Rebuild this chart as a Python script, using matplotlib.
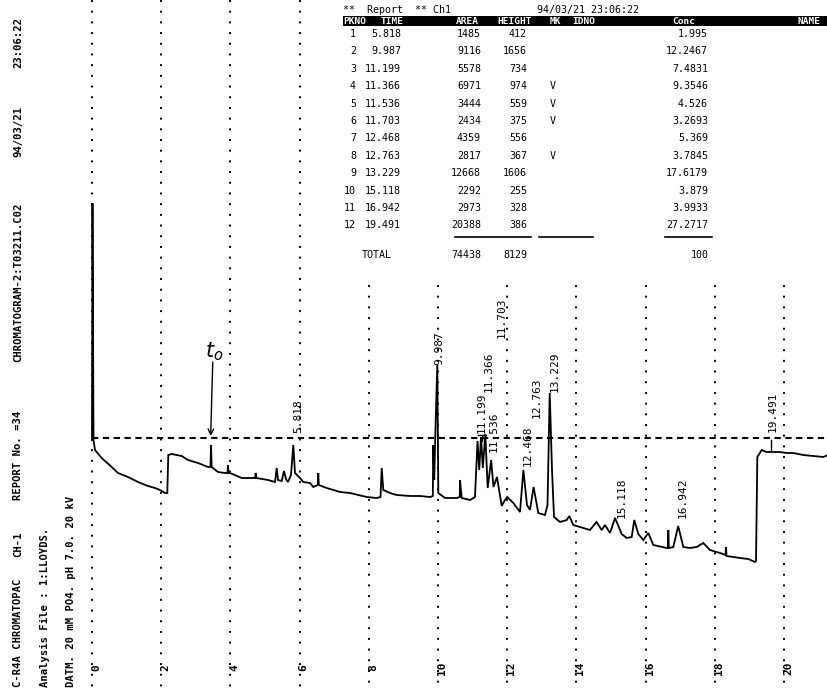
import matplotlib
matplotlib.use("Agg")
import matplotlib.pyplot as plt

# ---------------- data ----------------
# detector trace: retention time (min) and signal (arbitrary units, dashed line = 0)
trace_t = [0.000, 0.014, 0.043, 0.087, 0.280, 0.569, 0.751, 1.040, 1.329, 1.618, 1.821, 1.965,
           2.110, 2.176, 2.205, 2.303, 2.592, 2.775, 3.064, 3.353, 3.425, 3.439, 3.459, 3.642,
           3.844, 3.916, 3.931, 3.945, 3.988, 4.327, 4.711, 4.731, 4.749, 5.087, 5.289, 5.338,
           5.376, 5.483, 5.549, 5.607, 5.665, 5.751, 5.818, 5.867, 6.012, 6.107, 6.301, 6.396,
           6.526, 6.540, 6.555, 6.783, 7.168, 7.457, 7.939, 8.228, 8.338, 8.373, 8.419, 8.613,
           8.806, 9.191, 9.480, 9.769, 9.850, 9.864, 9.890, 9.934, 9.980, 10.009, 10.202, 10.540,
           10.630, 10.636, 10.685, 10.925, 11.069, 11.142, 11.191, 11.243, 11.295, 11.367, 11.436,
           11.535, 11.604, 11.705, 11.841, 11.936, 12.003, 12.176, 12.370, 12.468, 12.572, 12.659,
           12.763, 12.899, 13.092, 13.165, 13.229, 13.295, 13.353, 13.526, 13.720, 13.795, 13.911,
           14.200, 14.393, 14.581, 14.731, 14.827, 14.971, 15.118, 15.309, 15.454, 15.598, 15.673,
           15.789, 15.934, 16.078, 16.223, 16.610, 16.647, 16.656, 16.670, 16.801, 16.942, 17.090,
           17.283, 17.477, 17.668, 17.861, 18.150, 18.309, 18.324, 18.338, 18.728, 18.968, 19.162,
           19.191, 19.229, 19.356, 19.491, 19.595, 19.884, 20.078, 20.269, 20.558, 20.847, 21.136,
           21.272]
trace_s = [-2, 235, -2, -12, -20, -29, -35, -39, -44, -48, -50, -52,
           -55, -55, -17, -16, -18, -22, -25, -29, -29, -7, -29, -34,
           -35, -35, -27, -35, -35, -40, -40, -35, -40, -42, -44, -30,
           -42, -43, -33, -41, -44, -37, -7, -35, -40, -44, -45, -49,
           -47, -35, -47, -50, -54, -55, -59, -60, -59, -30, -52, -55,
           -57, -58, -58, -59, -58, -7, -42, 18, 73, -55, -60, -60,
           -59, -42, -60, -62, -59, -3, -32, 1, -30, 4, -50,
           -22, -49, -39, -68, -62, -59, -65, -74, -32, -67, -72,
           -49, -75, -77, -67, 45, -32, -79, -84, -82, -78, -87,
           -90, -92, -84, -92, -87, -95, -80, -96, -100, -99, -82,
           -96, -102, -95, -107, -110, -110, -92, -110, -109, -88, -109,
           -110, -109, -105, -112, -115, -117, -109, -118, -120, -121, -124,
           -123, -19, -12, -14, -14, -14, -15, -15, -17, -18, -19,
           -17]

# integrated peaks (report table)
pk_no = [1, 2, 3, 4, 5, 6, 7, 8, 9, 10, 11, 12]
pk_time = ["5.818", "9.987", "11.199", "11.366", "11.536", "11.703",
           "12.468", "12.763", "13.229", "15.118", "16.942", "19.491"]
pk_area = [1485, 9116, 5578, 6971, 3444, 2434, 4359, 2817, 12668, 2292, 2973, 20388]
pk_height = [412, 1656, 734, 974, 559, 375, 556, 367, 1606, 255, 328, 386]
pk_mark = ["", "", "", "V", "V", "V", "", "V", "", "", "", ""]
pk_conc = ["1.995", "12.2467", "7.4831", "9.3546", "4.526", "3.2693",
           "5.369", "3.7845", "17.6179", "3.879", "3.9933", "27.2717"]
total_area = "74438"
total_height = "8129"
total_conc = "100"

x_ticks = [0, 2, 4, 6, 8, 10, 12, 14, 16, 18, 20]
tick_labels = ["0", "2", "4", "6", "8", "10", "12", "14", "16", "18", "20"]

header_cols = ["PKNO", "TIME", "AREA", "HEIGHT", "MK", "IDNO", "Conc", "NAME"]

# ---------------- layout ----------------
W, H = 828, 689
PX0, PXMIN = 92.0, 34.6      # pixel of t=0, pixels per minute
Y0 = 438.0                   # pixel row of the dashed reference line
MONO = "DejaVu Sans Mono"

fig = plt.figure(figsize=(W / 100, H / 100), dpi=100)
fig.patch.set_facecolor("white")
ax = fig.add_axes([0, 0, 1, 1])
ax.set_xlim((0 - PX0) / PXMIN, (W - PX0) / PXMIN)
ax.set_ylim(Y0 - H, Y0)
ax.axis("off")


def fx(px):
    return px / W


def fy(py):
    return 1 - py / H


def yd(py):  # pixel row -> data y
    return Y0 - py


# vertical dotted grid lines
for t in x_ticks:
    top = 0 if t < 8 else 285
    ax.plot([t, t], [yd(top), yd(H)], color="black", lw=1.4,
            linestyle=(0, (1, 4.5)), solid_capstyle="round", zorder=1)

# horizontal dashed reference line
ax.plot([0, (W - PX0) / PXMIN], [0, 0], color="black", lw=1.5,
        linestyle=(0, (3, 2.2)), zorder=1)

# chromatogram trace
ax.plot(trace_t, trace_s, color="black", lw=1.3, zorder=3, solid_joinstyle="miter")

# tick labels along bottom (rotated)
for t, lab in zip(x_ticks, tick_labels):
    ax.text(t + 4 / PXMIN, yd(668), lab, rotation=90, rotation_mode="anchor",
            ha="center", va="center", fontsize=8, family=MONO, fontweight="bold",
            zorder=4)

# peak retention-time labels (bottom pixel row of each label)
lab_bottom_px = [433, 365, 433, 392, 452, 338, 466, 418, 392, 518, 518, 432]
lab_dx_px = [5, 1.5, 2.5, 3, 3, 5, 4, 3.5, 5, 7, 5, 6.5]
for txt, bot, dx in zip(pk_time, lab_bottom_px, lab_dx_px):
    t = float(txt)
    ax.text(t + dx / PXMIN, yd(bot), txt, rotation=90, rotation_mode="anchor",
            ha="left", va="center", fontsize=8, family=MONO, zorder=4)
# small marker ticks printed under two labels
ax.plot([11.15, 11.40], [yd(435), yd(435)], color="black", lw=1.0, zorder=4)
ax.plot([11.27, 11.27], [yd(435), yd(441)], color="black", lw=1.0, zorder=4)
ax.plot([19.63, 19.63], [yd(440), yd(450)], color="black", lw=1.0, zorder=4)

# hand-written t0 annotation
ax.annotate("", xy=(3.43, yd(436)), xytext=(3.49, yd(362)),
            arrowprops=dict(arrowstyle="->", lw=1.0, color="black",
                            shrinkA=0, shrinkB=0, mutation_scale=10))
ax.text(3.52, yd(352), r"$t_o$", fontsize=15, ha="center", va="center",
        family="DejaVu Serif", style="italic")

# ---------------- left vertical header text ----------------
left_col1 = [("C-R4A CHROMATOPAC", 687), ("CH-1", 557), ("REPORT No. =34", 500),
             ("CHROMATOGRAM-2:T03211.C02", 362), ("94/03/21", 157), ("23:06:22", 68)]
for txt, bot in left_col1:
    fig.text(fx(18), fy(bot), txt, rotation=90, rotation_mode="anchor",
             ha="left", va="center", fontsize=7.6, family=MONO, fontweight="bold")
fig.text(fx(45), fy(687), "Analysis File : 1:LLOYDS.", rotation=90, rotation_mode="anchor",
         ha="left", va="center", fontsize=7.6, family=MONO, fontweight="bold")
fig.text(fx(71), fy(687), "DATM. 20 mM PO4. pH 7.0. 20 kV", rotation=90,
         rotation_mode="anchor", ha="left", va="center", fontsize=7.6, family=MONO,
         fontweight="bold")

# ---------------- report table ----------------
TFS = 7.2
fig.text(fx(343), fy(10), "**  Report  ** Ch1", fontsize=TFS, family=MONO,
         ha="left", va="center")
fig.text(fx(537), fy(10), "94/03/21 23:06:22", fontsize=TFS, family=MONO,
         ha="left", va="center")

# black header bar
fig.patches.append(plt.Rectangle((fx(343), fy(26)), fx(828) - fx(343), fy(16) - fy(26),
                                 transform=fig.transFigure, facecolor="black",
                                 edgecolor="none", zorder=5))
head_x = [343, 381, 456, 497, 550, 572, 672, 798]
for lab, x in zip(header_cols, head_x):
    fig.text(fx(x), fy(21), lab, fontsize=6.8, family=MONO, color="white",
             fontweight="bold", ha="left", va="center", zorder=6)

col_no_r, col_t_r, col_a_r, col_h_r, col_mk, col_c_r = 356, 401, 481, 527, 553, 708
row0, dy = 34, 17.4
for i in range(len(pk_no)):
    y = row0 + i * dy
    fig.text(fx(col_no_r), fy(y), str(pk_no[i]), fontsize=TFS, family=MONO, ha="right", va="center")
    fig.text(fx(col_t_r), fy(y), pk_time[i], fontsize=TFS, family=MONO, ha="right", va="center")
    fig.text(fx(col_a_r), fy(y), str(pk_area[i]), fontsize=TFS, family=MONO, ha="right", va="center")
    fig.text(fx(col_h_r), fy(y), str(pk_height[i]), fontsize=TFS, family=MONO, ha="right", va="center")
    if pk_mark[i]:
        fig.text(fx(col_mk), fy(y), pk_mark[i], fontsize=TFS, family=MONO, ha="center", va="center")
    fig.text(fx(col_c_r), fy(y), pk_conc[i], fontsize=TFS, family=MONO, ha="right", va="center")

y_line = row0 + 11 * dy + 12
for x0, x1 in [(455, 531), (539, 593), (665, 712)]:
    fig.add_artist(plt.Line2D([fx(x0), fx(x1)], [fy(y_line), fy(y_line)],
                              color="black", lw=1.2, transform=fig.transFigure))
y_tot = y_line + 18
fig.text(fx(362), fy(y_tot), "TOTAL", fontsize=TFS, family=MONO, ha="left", va="center")
fig.text(fx(col_a_r), fy(y_tot), total_area, fontsize=TFS, family=MONO, ha="right", va="center")
fig.text(fx(col_h_r), fy(y_tot), total_height, fontsize=TFS, family=MONO, ha="right", va="center")
fig.text(fx(700), fy(y_tot), total_conc, fontsize=TFS, family=MONO, ha="center", va="center")

fig.savefig("out.png", dpi=100, facecolor="white")
